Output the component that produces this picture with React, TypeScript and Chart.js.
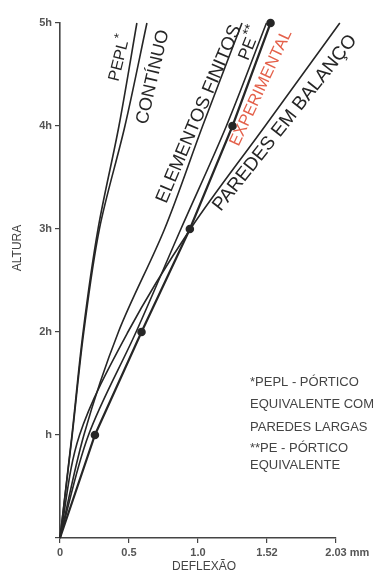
import React, { useEffect, useRef } from "react";
import { Chart, registerables } from "chart.js";

Chart.register(...registerables);

// Heights (in multiples of h)
const heights = [0, 1, 2, 3, 4, 5];
// Deflection (mm) per curve
const pepl = [0, 0.088, 0.17, 0.28, 0.434, 0.566];
const continuo = [0, 0.09, 0.175, 0.29, 0.478, 0.64];
const elementosFinitos = [0, 0.176, 0.43, 0.77, 1.05, 1.34];
const porticoEquivalente = [0, 0.21, 0.56, 0.89, 1.225, 1.52];
const experimental = [0, 0.257, 0.6, 0.956, 1.27, 1.55];
const paredesBalanco = [0, 0.144, 0.5, 0.96, 1.51, 2.06];

// Axis ticks
const xTickValues = [0, 0.508, 1.016, 1.524, 2.032];
const xTickLabels = ["0", "0.5", "1.0", "1.52", "2.03"];
const xUnit = "mm";
const yTickLabels = ["", "h", "2h", "3h", "4h", "5h"];

const footnote = [
  "*PEPL - PÓRTICO",
  "EQUIVALENTE COM",
  "PAREDES LARGAS",
  "**PE - PÓRTICO",
  "EQUIVALENTE",
];

const FONT = "'Liberation Sans', Arial, sans-serif";
const INK = "#262626";

const toPts = (xs: number[]) => xs.map((x, i) => ({ x, y: heights[i] }));

const labelsPlugin = {
  id: "labelsPlugin",
  afterDraw(chart: any) {
    const ctx = chart.ctx as CanvasRenderingContext2D;
    const rot = (
      text: string,
      cx: number,
      cy: number,
      angle: number,
      size: number,
      color: string,
      sup?: string
    ) => {
      ctx.save();
      ctx.translate(cx, cy);
      ctx.rotate((-angle * Math.PI) / 180);
      ctx.font = `${size}px ${FONT}`;
      ctx.fillStyle = color;
      ctx.textAlign = "center";
      ctx.textBaseline = "middle";
      ctx.fillText(text, 0, 0);
      if (sup) {
        const w = ctx.measureText(text).width;
        ctx.font = `${Math.round(size * 0.8)}px ${FONT}`;
        ctx.textAlign = "left";
        ctx.fillText(sup, w / 2 + 1, -size * 0.35);
      }
      ctx.restore();
    };
    rot("PEPL", 119, 61, 76, 16, INK, "*");
    rot("CONTÍNUO", 153, 77, 77, 18, INK);
    rot("ELEMENTOS FINITOS", 199, 114, 67, 18.5, INK);
    rot("PE", 248, 49, 68, 17, INK, "**");
    rot("EXPERIMENTAL", 261, 88, 65, 16.5, "#e4604a");
    rot("PAREDES EM BALANÇO", 285, 123, 51.5, 19, INK);

    // unit after last x tick label
    const xs = chart.scales.x;
    const xLast = xs.getPixelForValue(xTickValues[xTickValues.length - 1]);
    ctx.save();
    ctx.font = `bold 11px ${FONT}`;
    ctx.fillStyle = "#555";
    ctx.textBaseline = "middle";
    const lw = ctx.measureText(xTickLabels[xTickLabels.length - 1]).width;
    ctx.textAlign = "left";
    ctx.fillText(xUnit, xLast + lw / 2 + 3, xs.top + 15);
    ctx.restore();

    // axis titles
    ctx.save();
    ctx.fillStyle = "#444";
    ctx.font = `12px ${FONT}`;
    ctx.textAlign = "center";
    ctx.textBaseline = "middle";
    ctx.fillText("DEFLEXÃO", 204, 567);
    ctx.translate(18, 248);
    ctx.rotate(-Math.PI / 2);
    ctx.fillText("ALTURA", 0, 0);
    ctx.restore();

    // footnote
    ctx.save();
    ctx.fillStyle = "#444";
    ctx.font = `13px ${FONT}`;
    ctx.textAlign = "left";
    ctx.textBaseline = "middle";
    const ys = [382, 404, 427, 448, 465];
    footnote.forEach((t, i) => ctx.fillText(t, 250, ys[i]));
    ctx.restore();
  },
};

export default function App() {
  const ref = useRef<HTMLCanvasElement | null>(null);

  useEffect(() => {
    if (!ref.current) return;
    const line = (data: number[], extra: any = {}) => ({
      data: toPts(data),
      borderColor: INK,
      backgroundColor: INK,
      borderWidth: 1.6,
      pointRadius: 0,
      cubicInterpolationMode: "monotone",
      fill: false,
      clip: false,
      ...extra,
    });
    const chart = new Chart(ref.current, {
      type: "line",
      data: {
        datasets: [
          line(pepl, { label: "PEPL*" }),
          line(continuo, { label: "CONTÍNUO" }),
          line(elementosFinitos, { label: "ELEMENTOS FINITOS" }),
          line(porticoEquivalente, { label: "PE**" }),
          line(experimental, {
            label: "EXPERIMENTAL",
            borderWidth: 2.2,
            pointRadius: [0, 3.2, 3.2, 3.2, 3.2, 3.2],
            cubicInterpolationMode: "default",
            tension: 0,
          }),
          line(paredesBalanco, { label: "PAREDES EM BALANÇO" }),
        ],
      },
      options: {
        animation: false,
        responsive: true,
        maintainAspectRatio: false,
        indexAxis: "y",
        layout: { padding: { top: 23, right: 56, left: 0, bottom: 0 } },
        plugins: {
          legend: { display: false },
          tooltip: { enabled: false },
        },
        scales: {
          x: {
            type: "linear",
            min: 0,
            max: 2.032,
            afterBuildTicks: (scale: any) => {
              scale.ticks = xTickValues.map((v) => ({ value: v }));
            },
            afterFit: (scale: any) => {
              scale.height = 45;
            },
            ticks: {
              autoSkip: false,
              maxRotation: 0,
              padding: 3,
              color: "#555",
              font: { family: FONT, size: 11, weight: "bold" },
              callback: (v: any) => {
                const i = xTickValues.findIndex((t) => Math.abs(t - v) < 1e-6);
                return i >= 0 ? xTickLabels[i] : "";
              },
            },
            grid: {
              drawOnChartArea: false,
              drawTicks: true,
              tickLength: 5,
              color: "#444",
              lineWidth: 1.2,
            },
            border: { color: "#444", width: 1.6 },
          },
          y: {
            type: "linear",
            min: 0,
            max: 5,
            afterFit: (scale: any) => {
              scale.width = 60;
            },
            ticks: {
              stepSize: 1,
              padding: 3,
              color: "#555",
              font: { family: FONT, size: 11, weight: "bold" },
              callback: (v: any) => yTickLabels[Math.round(v)] ?? "",
            },
            grid: {
              drawOnChartArea: false,
              drawTicks: true,
              tickLength: 5,
              color: "#444",
              lineWidth: 1.2,
            },
            border: { color: "#444", width: 1.6 },
          },
        },
      } as any,
      plugins: [labelsPlugin],
    });
    return () => chart.destroy();
  }, []);

  return (
    <div
      style={{
        position: "fixed",
        left: 0,
        top: 0,
        width: 392,
        height: 583,
        background: "#fff",
      }}
    >
      <canvas ref={ref} />
    </div>
  );
}
